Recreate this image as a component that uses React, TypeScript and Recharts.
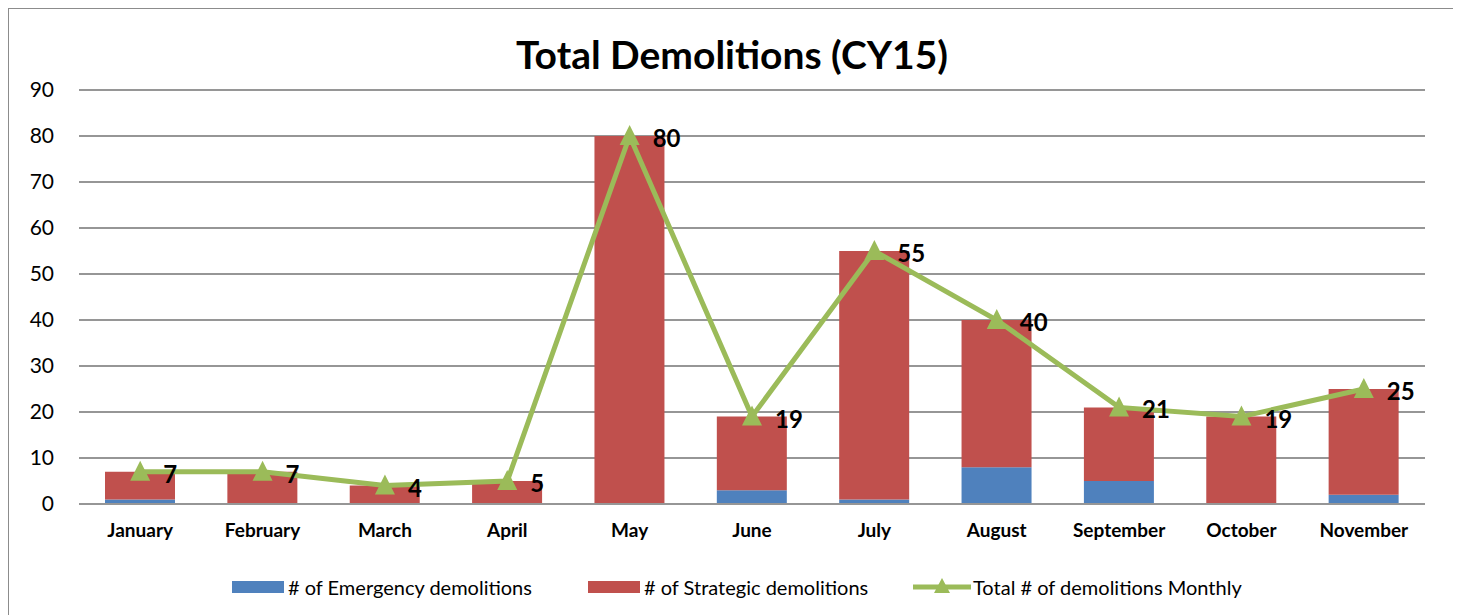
import { ComposedChart, Bar, Line, XAxis, YAxis, CartesianGrid, Legend, LabelList } from 'recharts';

const months = ['January', 'February', 'March', 'April', 'May', 'June', 'July', 'August', 'September', 'October', 'November'];
const emergency = [1, 0, 0, 0, 0, 3, 1, 8, 5, 0, 2];
const strategic = [6, 7, 4, 5, 80, 16, 54, 32, 16, 19, 23];
const totals = [7, 7, 4, 5, 80, 19, 55, 40, 21, 19, 25];
const yTicks = [0, 10, 20, 30, 40, 50, 60, 70, 80, 90];

const BLUE = '#4F81BD';
const RED = '#C0504D';
const GREEN = '#9BBB59';
const FONT = 'Lato, "Open Sans", sans-serif';

const data = months.map((m, i) => ({
  month: m,
  emergency: emergency[i],
  strategic: strategic[i],
  total: totals[i],
}));

// triangle marker like Excel's
const Triangle = (props: any) => {
  const { cx, cy } = props;
  if (cx == null || cy == null) return null;
  return <polygon points={`${cx},${cy - 11} ${cx - 10},${cy + 9} ${cx + 10},${cy + 9}`} fill={GREEN} />;
};

const TotalLabel = (props: any) => {
  const { x, y, value } = props;
  return (
    <text x={x + 23} y={y + 11} fontFamily={FONT} fontWeight={700} fontSize={24} fill="#000">
      {value}
    </text>
  );
};

const LegendBox = () => (
  <div style={{ position: 'relative', height: 30, fontFamily: FONT, fontSize: 20, color: '#000' }}>
    <div style={{ position: 'absolute', left: 203, top: 3, display: 'flex', alignItems: 'center' }}>
      <span style={{ display: 'inline-block', width: 52, height: 12, background: BLUE, marginRight: 4 }} />
      # of Emergency demolitions
    </div>
    <div style={{ position: 'absolute', left: 559, top: 3, display: 'flex', alignItems: 'center' }}>
      <span style={{ display: 'inline-block', width: 52, height: 12, background: RED, marginRight: 4 }} />
      # of Strategic demolitions
    </div>
    <div style={{ position: 'absolute', left: 884, top: 3, display: 'flex', alignItems: 'center' }}>
      <svg width={58} height={22} style={{ marginRight: 2 }}>
        <line x1={0} y1={11} x2={58} y2={11} stroke={GREEN} strokeWidth={5} />
        <polygon points="29,2 21,17 37,17" fill={GREEN} />
      </svg>
      Total # of demolitions Monthly
    </div>
  </div>
);

export default function App() {
  return (
    <div
      style={{
        position: 'relative',
        width: 1448,
        height: 620,
        border: '1px solid #8c8c8c',
        boxSizing: 'border-box',
        background: '#fff',
      }}
    >
      <div
        style={{
          position: 'absolute',
          left: 0,
          width: '100%',
          top: 22,
          textAlign: 'center',
          fontFamily: FONT,
          fontWeight: 700,
          fontSize: 39,
          color: '#000',
        }}
      >
        Total Demolitions (CY15)
      </div>
      <ComposedChart width={1446} height={606} data={data} margin={{ top: 81, right: 30, bottom: 13, left: 20 }}>
        <CartesianGrid vertical={false} stroke="#969696" strokeWidth={2} />
        <XAxis
          dataKey="month"
          height={68}
          axisLine={{ stroke: '#969696', strokeWidth: 2 }}
          tickLine={false}
          tickMargin={14}
          tick={{ fontFamily: FONT, fontWeight: 700, fontSize: 19, fill: '#000' }}
        />
        <YAxis
          width={50}
          domain={[0, 90]}
          ticks={yTicks}
          axisLine={false}
          tickLine={false}
          tickMargin={19}
          tick={{ fontFamily: FONT, fontSize: 21, fill: '#000' }}
        />
        <Legend verticalAlign="bottom" height={30} content={<LegendBox />} />
        <Bar dataKey="emergency" stackId="a" fill={BLUE} barSize={70} isAnimationActive={false} />
        <Bar dataKey="strategic" stackId="a" fill={RED} barSize={70} isAnimationActive={false} />
        <Line
          dataKey="total"
          type="linear"
          stroke={GREEN}
          strokeWidth={5}
          dot={<Triangle />}
          activeDot={false}
          isAnimationActive={false}
        >
          <LabelList dataKey="total" content={<TotalLabel />} />
        </Line>
      </ComposedChart>
    </div>
  );
}
